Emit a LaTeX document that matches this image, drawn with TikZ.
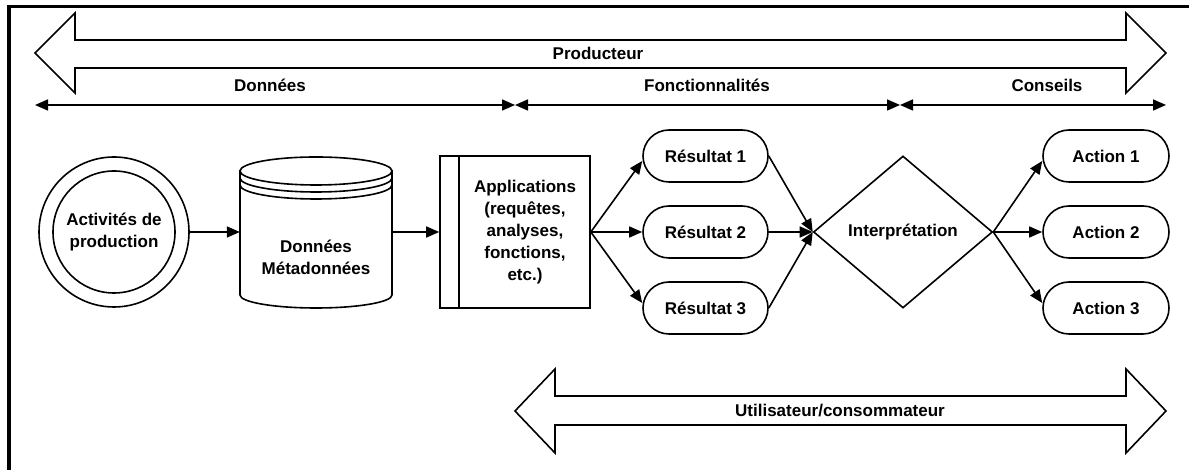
\documentclass[tikz,border=0pt]{standalone}
\usepackage{fontspec}
\setmainfont{Liberation Sans}
\usetikzlibrary{arrows.meta,shapes.geometric,shapes.misc}
\begin{document}
\begin{tikzpicture}[x=1pt,y=1pt,
  every node/.style={font=\bfseries\fontsize{17}{22}\selectfont, align=center},
  ln/.style={line width=1.6pt},
  tip/.style={-{Triangle[length=13pt,width=11pt]}},
  dtip/.style={{Triangle[length=13pt,width=11pt]}-{Triangle[length=13pt,width=11pt]}},
  res/.style={rounded rectangle, draw, line width=1.6pt, minimum width=125pt, minimum height=52pt, inner sep=0pt},
  bigarrow/.style={line width=1.6pt, line join=miter}
]
\useasboundingbox (0,0) rectangle (1189,470);
% frame
\draw[line width=3.6pt] (9,0) -- (9,463.5) -- (1189,463.5);

% Producteur big arrow
\draw[bigarrow] (35,417) -- (75,457) -- (75,430) -- (1126,430) -- (1126,457) -- (1166,417)
  -- (1126,377) -- (1126,402) -- (75,402) -- (75,377) -- cycle;
\node (lp) at (598,417) {Producteur};

% section labels and lines
\node (ld) at (270,385) {Données};
\node (lf) at (707,385) {Fonctionnalités};
\node (lc) at (1047,385) {Conseils};
\coordinate (t0) at (35,365);
\coordinate (t1) at (515,365);
\coordinate (t2) at (900,365);
\coordinate (t3) at (1166,365);
\draw[ln,dtip] (t0) -- (t1);
\draw[ln,dtip] (t1) -- (t2);
\draw[ln,dtip] (t2) -- (t3);

% Activites de production
\node[circle, draw, ln, minimum size=150pt, inner sep=0pt] (act) at (114,238) {Activités de\\production};
\draw[ln] (act.center) circle[radius=61];

% Database (stacked cylinder)
\node[minimum width=152pt, minimum height=152pt, inner sep=0pt] (db) at (316,238) {};
\draw[ln] (240,300) -- (240,175) arc[start angle=180, end angle=360, x radius=76, y radius=13] -- (392,300);
\draw[ln] (316,299) ellipse[x radius=76, y radius=14];
\draw[ln] (240,292) arc[start angle=180, end angle=360, x radius=76, y radius=14];
\draw[ln] (240,285) arc[start angle=180, end angle=360, x radius=76, y radius=14];
\node (dbt) at (316,213) {Données\\Métadonnées};

% Applications box
\node[draw, ln, minimum width=150pt, minimum height=152pt, inner sep=0pt] (app) at (515,238) {};
\draw[ln] (459,162) -- (459,314);
\node (appt) at (525,238) {Applications\\(requêtes,\\analyses,\\fonctions,\\etc.)};

% Resultats
\node[res] (r1) at (705.5,314) {Résultat 1};
\node[res] (r2) at (705.5,238) {Résultat 2};
\node[res] (r3) at (705.5,162) {Résultat 3};

% Interpretation
\node[diamond, draw, ln, minimum width=179pt, minimum height=152pt, inner sep=0pt] (interp) at (903,238) {Interprétation};

% Actions
\node[res, minimum width=126pt] (a1) at (1106,314) {Action 1};
\node[res, minimum width=126pt] (a2) at (1106,238) {Action 2};
\node[res, minimum width=126pt] (a3) at (1106,162) {Action 3};

% connectors
\draw[ln,tip] (act) -- (db);
\draw[ln,tip] (db) -- (app);
\draw[ln,tip] (app.east) -- ([yshift=-5pt]r1.west);
\draw[ln,tip] (app.east) -- (r2.west);
\draw[ln,tip] (app.east) -- ([yshift=5pt]r3.west);
\draw[ln,tip] (r1.east) -- (interp.west);
\draw[ln,tip] (r2.east) -- (interp.west);
\draw[ln,tip] (r3.east) -- (interp.west);
\draw[ln,tip] (interp.east) -- ([yshift=-5pt]a1.west);
\draw[ln,tip] (interp.east) -- (a2.west);
\draw[ln,tip] (interp.east) -- ([yshift=5pt]a3.west);

% Utilisateur big arrow
\draw[bigarrow] (515,59) -- (555,101) -- (555,74) -- (1126,74) -- (1126,101) -- (1166,59)
  -- (1126,17) -- (1126,45) -- (555,45) -- (555,17) -- cycle;
\node (lu) at (840,59) {Utilisateur/consommateur};
\end{tikzpicture}
\end{document}
